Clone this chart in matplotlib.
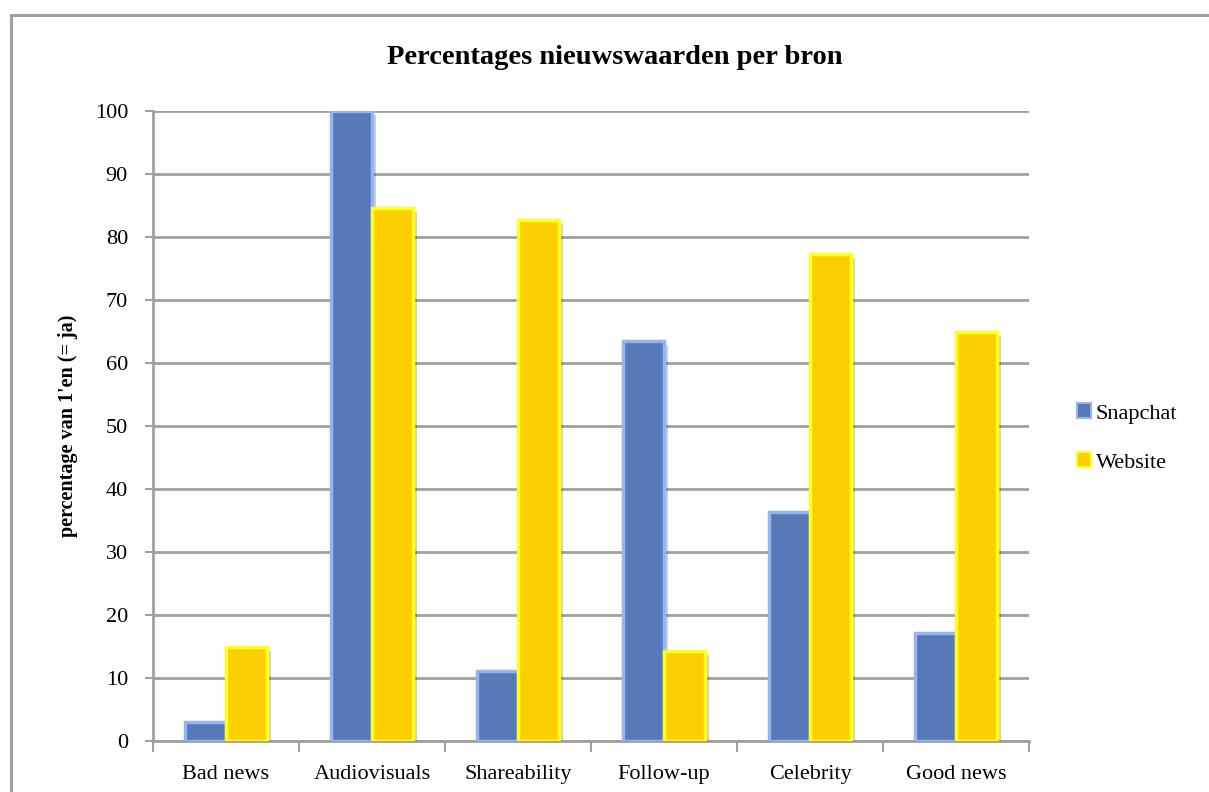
import matplotlib.pyplot as plt
import matplotlib.patheffects as pe
from matplotlib.patches import Patch, Rectangle
import numpy as np

# === DATA ===
categories = ['Bad news', 'Audiovisuals', 'Shareability', 'Follow-up', 'Celebrity', 'Good news']
snapchat = [3.0, 100.0, 11.1, 63.5, 36.4, 17.2]
website = [15.0, 84.6, 82.7, 14.3, 77.3, 65.0]
series_names = ['Snapchat', 'Website']
y_ticks = list(range(0, 101, 10))

title = 'Percentages nieuwswaarden per bron'
y_label = "percentage van 1'en (= ja)"

# === STYLE ===
plt.rcParams['font.family'] = ['Liberation Serif', 'DejaVu Serif']
grey = '#a0a0a0'
snap_face, snap_edge = '#5778b9', '#93b6f2'
web_face, web_edge = '#fcd000', '#ffff1a'
bar_w = 0.28

fig = plt.figure(figsize=(12.09, 7.92), dpi=100)
W, H = 1209, 792
ax = fig.add_axes([153 / W, (H - 741) / H, 876 / W, 630 / H])

# outer chart border (continues past right/bottom edge)
fig.patches.append(Rectangle((11 / W, -0.05), 1.1, (H - 15) / H + 0.05,
                             transform=fig.transFigure, fill=False,
                             edgecolor=grey, linewidth=2.2))

x = np.arange(len(categories))
shadow = [pe.SimplePatchShadow(offset=(3, -3), shadow_rgbFace='black', alpha=0.18), pe.Normal()]

b1 = ax.bar(x - bar_w / 2, snapchat, bar_w, color=snap_face, edgecolor=snap_edge,
            linewidth=2.5, zorder=3)
b2 = ax.bar(x + bar_w / 2, website, bar_w, color=web_face, edgecolor=web_edge,
            linewidth=2.5, zorder=3)
for b in list(b1) + list(b2):
    b.set_path_effects(shadow)

ax.set_xlim(-0.5, len(categories) - 0.5)
ax.set_ylim(0, 100)
ax.set_yticks(y_ticks)
ax.yaxis.grid(True, color=grey, linewidth=2)
ax.set_axisbelow(True)

ax.set_xticks(x)
ax.set_xticklabels(categories, fontsize=16)
ax.set_xticks(np.arange(-0.5, len(categories)), minor=True)
ax.tick_params(axis='x', which='major', length=0, pad=17)
ax.tick_params(axis='x', which='minor', length=8, width=1.5, color=grey)
ax.tick_params(axis='y', length=6, width=1.5, color=grey, labelsize=16, pad=12)

for s in ['top', 'right']:
    ax.spines[s].set_visible(False)
for s in ['left', 'bottom']:
    ax.spines[s].set_color(grey)
    ax.spines[s].set_linewidth(2)

ax.set_ylabel(y_label, fontsize=14.5, fontweight='bold')
ax.yaxis.set_label_coords(-75 / 876, 0.5)
fig.text(615 / W, 1 - 58 / H, title, ha='center', va='center', fontsize=20.5, fontweight='bold')

handles = [Patch(facecolor=snap_face, edgecolor=snap_edge, linewidth=1.5),
           Patch(facecolor=web_face, edgecolor=web_edge, linewidth=1.5)]
fig.legend(handles, series_names, loc='center left', bbox_to_anchor=(1057 / W, 1 - 438 / H),
           frameon=False, fontsize=16, handlelength=0.65, handleheight=0.65,
           handletextpad=0.2, labelspacing=1.3)

fig.savefig('out.png', dpi=100)
